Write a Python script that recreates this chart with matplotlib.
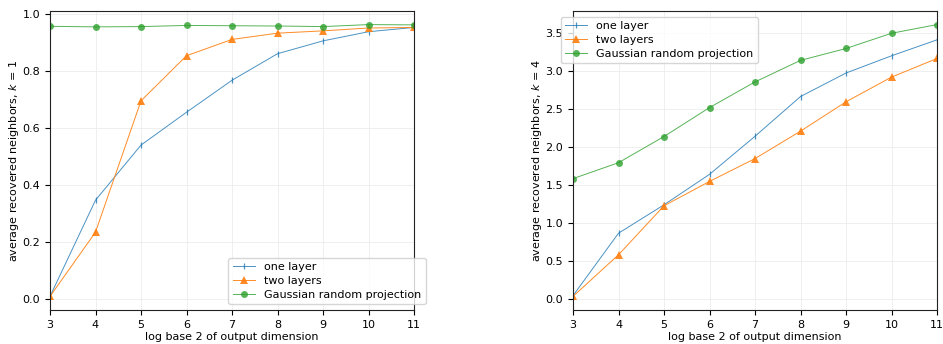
import matplotlib
matplotlib.use("Agg")
import matplotlib.pyplot as plt
import numpy as np

x = [3, 4, 5, 6, 7, 8, 9, 10, 11]
xticks = [3, 4, 5, 6, 7, 8, 9, 10, 11]

k1_one = [0.01, 0.347, 0.54, 0.655, 0.767, 0.86, 0.905, 0.937, 0.952]
k1_two = [0.01, 0.235, 0.695, 0.853, 0.91, 0.932, 0.94, 0.95, 0.952]
k1_gauss = [0.956, 0.954, 0.955, 0.959, 0.958, 0.957, 0.955, 0.962, 0.961]

k4_one = [0.05, 0.87, 1.243, 1.643, 2.143, 2.665, 2.974, 3.2, 3.41]
k4_two = [0.04, 0.587, 1.23, 1.55, 1.85, 2.21, 2.596, 2.92, 3.165]
k4_gauss = [1.587, 1.796, 2.14, 2.52, 2.857, 3.14, 3.296, 3.496, 3.61]

labels = ["one layer", "two layers", "Gaussian random projection"]
ylabels = ["average recovered neighbors, $k$ = 1", "average recovered neighbors, $k$ = 4"]

plt.rcParams['font.size'] = 8.0

fig = plt.figure(figsize=(9.43, 3.44), dpi=100)
ax1 = fig.add_axes([50/943, 34/344, 364/943, 299/344])
ax2 = fig.add_axes([573/943, 34/344, 364/943, 299/344])

def draw(ax, one, two, gauss, ylabel):
    ax.plot(x, one, color='C0', marker='|', ms=5, lw=0.7, alpha=0.8, label=labels[0],
            markeredgewidth=0.9)
    ax.plot(x, two, color='C1', marker='^', ms=5.5, lw=0.7, alpha=0.9, label=labels[1],
            markeredgewidth=0)
    ax.plot(x, gauss, color='C2', marker='o', ms=5, lw=0.7, alpha=0.8, label=labels[2],
            markeredgewidth=0)
    ax.set_xlim(3, 11)
    ax.set_xticks(xticks)
    ax.set_xlabel("log base 2 of output dimension", labelpad=2)
    ax.set_ylabel(ylabel, labelpad=1)
    ax.grid(True, color='#ececec', lw=0.6)
    for s in ax.spines.values():
        s.set_color('#222222')

draw(ax1, k1_one, k1_two, k1_gauss, ylabels[0])
draw(ax2, k4_one, k4_two, k4_gauss, ylabels[1])

ax1.legend(loc='lower right', bbox_to_anchor=(1.047, 0.0), framealpha=0.8,
           labelspacing=0.35)
ax2.legend(loc='upper left', bbox_to_anchor=(-0.049, 1.0), framealpha=0.8,
           labelspacing=0.35)

fig.savefig("out.png", dpi=100)
